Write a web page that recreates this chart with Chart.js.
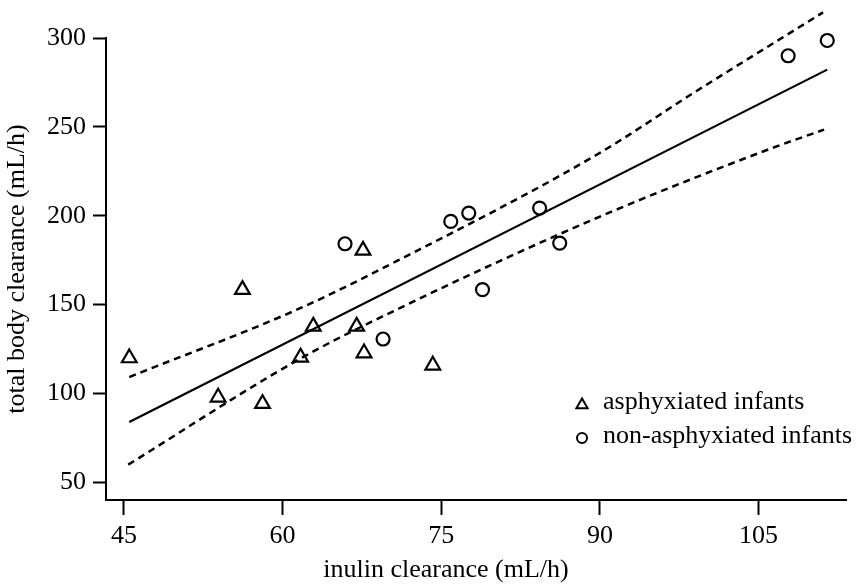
<!DOCTYPE html>
<html lang="en">

<head>
    <meta charset="UTF-8" />
    <title>Total body clearance vs inulin clearance</title>
    <script src="https://cdn.jsdelivr.net/npm/chart.js@4"></script>
    <style>
        body { margin: 0; background: #fff; }
        #wrap { width: 857px; height: 585px; position: relative; }
    </style>
</head>

<body>
    <div id="wrap">
        <canvas id="chart"></canvas>
    </div>

    <script>
        // values
        const inulinAsphyx = [45.5, 53.9, 56.2, 58.1, 61.7, 62.9, 67.0, 67.6, 67.7, 74.2];
        const clearanceAsphyx = [119.9, 97.8, 158.4, 94.2, 120.3, 137.7, 137.7, 180.5, 122.7, 115.8];

        const inulinNonAsphyx = [65.9, 69.5, 75.9, 77.6, 78.9, 84.3, 86.2, 107.8, 111.5];
        const clearanceNonAsphyx = [184.2, 130.6, 196.8, 201.5, 158.4, 204.3, 184.6, 290, 298.6];

        // regression line and confidence band
        const fitX = [45.5, 111.5];
        const fitY = [83.9, 282.2];
        const upperX = [45.5, 61.5, 70.9, 89.7, 99.1, 111.1];
        const upperY = [109.2, 147.5, 174.8, 234.3, 270, 314.4];
        const lowerX = [45.4, 61.5, 70.9, 89.7, 106.3, 111.2];
        const lowerY = [59.9, 119, 147.5, 198.7, 238.1, 248.4];

        const xTicks = [45, 60, 75, 90, 105];
        const yTicks = [50, 100, 150, 200, 250, 300];

        const seriesNames = ['asphyxiated infants', 'non-asphyxiated infants'];
        const xTitle = 'inulin clearance (mL/h)';
        const yTitle = 'total body clearance (mL/h)';

        const pts = (xs, ys) => xs.map((x, i) => ({ x: x, y: ys[i] }));
        const FONT = '"Liberation Serif", "DejaVu Serif", serif';

        // legend + x title drawn by hand (legend sits inside the plot)
        const extras = {
            id: 'extras',
            afterDraw(chart) {
                const ctx = chart.ctx;
                ctx.save();
                ctx.fillStyle = '#000';
                ctx.strokeStyle = '#000';
                ctx.lineWidth = 2;
                ctx.font = '26px ' + FONT;
                ctx.textBaseline = 'middle';

                // triangle
                let mx = 582, my = 405, r = 6.5;
                ctx.beginPath();
                for (let k = 0; k < 3; k++) {
                    const a = k * 2 * Math.PI / 3;
                    const px = mx + Math.sin(a) * r, py = my - Math.cos(a) * r;
                    k === 0 ? ctx.moveTo(px, py) : ctx.lineTo(px, py);
                }
                ctx.closePath();
                ctx.stroke();
                ctx.textAlign = 'left';
                ctx.fillText(seriesNames[0], 603, 402);

                // circle
                ctx.beginPath();
                ctx.arc(582, 438, 5, 0, Math.PI * 2);
                ctx.stroke();
                ctx.fillText(seriesNames[1], 603, 436);

                ctx.textAlign = 'center';
                ctx.fillText(xTitle, 446, 570);
                ctx.restore();
            }
        };

        const band = {
            showLine: true,
            borderColor: '#000',
            borderWidth: 2.5,
            borderDash: [7, 5],
            cubicInterpolationMode: 'monotone',
            pointRadius: 0,
            clip: false
        };

        const ctx = document.getElementById('chart').getContext('2d');
        const chart = new Chart(ctx, {
            type: 'scatter',
            data: {
                datasets: [
                    {
                        label: 'fit',
                        data: pts(fitX, fitY),
                        showLine: true,
                        borderColor: '#000',
                        borderWidth: 2.2,
                        pointRadius: 0,
                        clip: false
                    },
                    Object.assign({ label: 'upper', data: pts(upperX, upperY) }, band),
                    Object.assign({ label: 'lower', data: pts(lowerX, lowerY) }, band),
                    {
                        label: seriesNames[0],
                        data: pts(inulinAsphyx, clearanceAsphyx),
                        pointStyle: 'triangle',
                        pointRadius: 8.5,
                        pointBorderWidth: 2.2,
                        borderColor: '#000',
                        backgroundColor: 'rgba(0,0,0,0)',
                        clip: false
                    },
                    {
                        label: seriesNames[1],
                        data: pts(inulinNonAsphyx, clearanceNonAsphyx),
                        pointStyle: 'circle',
                        pointRadius: 6.5,
                        pointBorderWidth: 2.2,
                        borderColor: '#000',
                        backgroundColor: 'rgba(0,0,0,0)',
                        clip: false
                    }
                ]
            },
            options: {
                responsive: true,
                maintainAspectRatio: false,
                animation: false,
                layout: { padding: { top: 38, right: 5, left: 0, bottom: 0 } },
                plugins: {
                    legend: { display: false },
                    tooltip: { enabled: false }
                },
                scales: {
                    x: {
                        type: 'linear',
                        min: 43.3,
                        max: 113.3,
                        afterBuildTicks: s => { s.ticks = xTicks.map(v => ({ value: v })); },
                        afterFit: s => { s.height = 85; },
                        border: { display: true, color: '#000', width: 2 },
                        grid: {
                            drawOnChartArea: false,
                            drawTicks: true,
                            tickLength: 15,
                            tickColor: '#000',
                            tickWidth: 2
                        },
                        ticks: {
                            color: '#000',
                            padding: 6,
                            font: { family: FONT, size: 26 }
                        }
                    },
                    y: {
                        type: 'linear',
                        min: 40,
                        max: 300,
                        afterBuildTicks: s => { s.ticks = yTicks.map(v => ({ value: v })); },
                        afterFit: s => { s.width = 106; },
                        border: { display: true, color: '#000', width: 2 },
                        grid: {
                            drawOnChartArea: false,
                            drawTicks: true,
                            tickLength: 13,
                            tickColor: '#000',
                            tickWidth: 2
                        },
                        ticks: {
                            color: '#000',
                            padding: 7,
                            font: { family: FONT, size: 26 }
                        },
                        title: {
                            display: true,
                            text: yTitle,
                            color: '#000',
                            padding: { top: 2, bottom: 0 },
                            font: { family: FONT, size: 26 }
                        }
                    }
                }
            },
            plugins: [extras]
        });
    </script>
</body>

</html>
